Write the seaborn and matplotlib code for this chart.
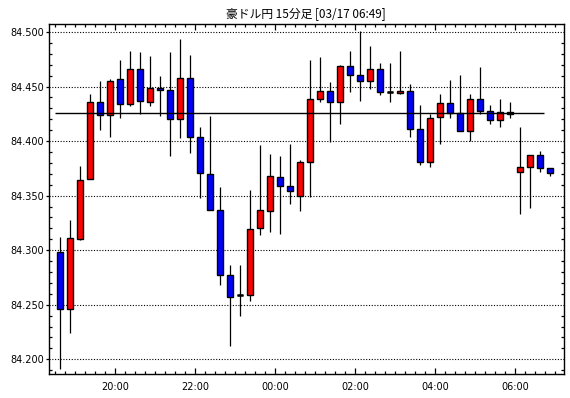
import numpy as np
import pandas as pd
import matplotlib
matplotlib.use("Agg")
import matplotlib.pyplot as plt
import matplotlib.dates as mdates
import seaborn as sns

# ---------------- data (15 min candles, AUD/JPY) ----------------
start_time = "2011-03-16 18:30"
n_bars = 50

opens = [84.298, 84.246, 84.310, 84.365, 84.436, 84.424, 84.457, 84.434, 84.466, 84.436,
         84.449, 84.447, 84.420, 84.458, 84.404, 84.370, 84.337, 84.277, 84.259, 84.259,
         84.320, 84.336, 84.367, 84.359, 84.350, 84.381, 84.439, 84.446, 84.436, 84.469,
         84.461, 84.455, 84.466, 84.445, 84.444, 84.446, 84.411, 84.381, 84.422, 84.435,
         84.426, 84.409, 84.439, 84.428, 84.419, 84.427, 84.372, 84.376, 84.387, 84.375]
highs = [84.312, 84.328, 84.377, 84.443, 84.455, 84.457, 84.474, 84.483, 84.482, 84.478,
         84.460, 84.482, 84.494, 84.479, 84.413, 84.423, 84.358, 84.286, 84.286, 84.355,
         84.396, 84.388, 84.386, 84.397, 84.383, 84.474, 84.477, 84.454, 84.470, 84.483,
         84.501, 84.487, 84.472, 84.472, 84.483, 84.452, 84.433, 84.425, 84.443, 84.456,
         84.461, 84.443, 84.468, 84.433, 84.439, 84.436, 84.413, 84.387, 84.391, 84.375]
lows = [84.191, 84.224, 84.309, 84.365, 84.410, 84.404, 84.421, 84.432, 84.425, 84.432,
        84.423, 84.386, 84.403, 84.389, 84.348, 84.337, 84.268, 84.212, 84.240, 84.253,
        84.314, 84.317, 84.315, 84.342, 84.336, 84.349, 84.436, 84.399, 84.416, 84.445,
        84.437, 84.448, 84.442, 84.436, 84.443, 84.404, 84.378, 84.376, 84.397, 84.421,
        84.409, 84.400, 84.425, 84.416, 84.413, 84.421, 84.333, 84.339, 84.372, 84.368]
closes = [84.246, 84.311, 84.364, 84.436, 84.424, 84.455, 84.434, 84.466, 84.437, 84.449,
          84.447, 84.420, 84.458, 84.404, 84.371, 84.337, 84.277, 84.257, 84.259, 84.319,
          84.337, 84.368, 84.359, 84.354, 84.381, 84.439, 84.446, 84.436, 84.469, 84.461,
          84.455, 84.466, 84.445, 84.445, 84.446, 84.411, 84.381, 84.421, 84.435, 84.426,
          84.409, 84.439, 84.428, 84.419, 84.427, 84.425, 84.376, 84.387, 84.375, 84.371]

ref_level = 84.4255                       # horizontal reference line
ref_from, ref_to = "2011-03-16 18:30", "2011-03-17 06:43"

title = "豪ドル円 15分足 [03/17 06:49]"
y_ticks = [84.200, 84.250, 84.300, 84.350, 84.400, 84.450, 84.500]

# ---------------- frame ----------------
df = pd.DataFrame({
    "time": pd.date_range(start_time, periods=n_bars, freq="15min"),
    "open": opens, "high": highs, "low": lows, "close": closes,
})
df["x"] = mdates.date2num(df["time"] + pd.Timedelta(minutes=7.5))
df["up"] = df["close"] >= df["open"]

sns.set_style("ticks")
plt.rcParams["font.family"] = ["DejaVu Sans"]
plt.rcParams["text.color"] = "black"
plt.rcParams["xtick.color"] = "black"
plt.rcParams["ytick.color"] = "black"
plt.rcParams["xtick.labelcolor"] = "black"
plt.rcParams["ytick.labelcolor"] = "black"

fig = plt.figure(figsize=(5.7, 3.98), dpi=100)
ax = fig.add_axes([0.086, 0.0603, 0.903, 0.8794])

# grid lines at every 0.05
for v in y_ticks:
    ax.axhline(v, color="black", lw=0.8, ls=(0, (1, 1.5)), zorder=0)

# wicks
ax.vlines(df["x"], df["low"], df["high"], color="black", lw=0.9, zorder=1)

# bodies
bar_w = 8 / 1440
colors = np.where(df["up"], "#ff0000", "#0000ff")
body_lo = np.minimum(df["open"], df["close"])
body_h = np.abs(df["close"] - df["open"])
ax.bar(df["x"], body_h, bottom=body_lo, width=bar_w, color=colors,
       edgecolor="black", linewidth=1.0, zorder=2)

# doji (open == close): flat black dash
doji = df[body_h < 0.0005]
ax.hlines(doji["close"], doji["x"] - bar_w / 2, doji["x"] + bar_w / 2,
          color="black", lw=1.8, zorder=3)

# reference line
ax.hlines(ref_level, mdates.date2num(pd.Timestamp(ref_from)),
          mdates.date2num(pd.Timestamp(ref_to)), color="black", lw=1.0, zorder=3)

# axes limits
ax.set_xlim(mdates.date2num(pd.Timestamp("2011-03-16 18:21")),
            mdates.date2num(pd.Timestamp("2011-03-17 07:13")))
ax.set_ylim(84.1865, 84.5073)

ax.xaxis.set_major_locator(mdates.HourLocator(byhour=range(0, 24, 2)))
ax.xaxis.set_minor_locator(mdates.MinuteLocator(byminute=[0, 15, 30, 45]))
ax.xaxis.set_major_formatter(mdates.DateFormatter("%H:%M"))
ax.set_yticks(y_ticks)
ax.set_yticklabels([f"{v:.3f}" for v in y_ticks])
ax.set_yticks(np.arange(84.19, 84.505, 0.01), minor=True)

ax.tick_params(axis="x", which="major", direction="in", length=4.5, width=0.9,
               top=True, labelsize=7, pad=6)
ax.tick_params(axis="x", which="minor", direction="in", length=2.5, width=0.9, top=True)
ax.tick_params(axis="y", which="major", direction="out", length=2.5, width=0.9,
               labelsize=7, pad=1)
ax.tick_params(axis="y", which="minor", direction="in", length=2.5, width=0.9, right=True)

for s in ax.spines.values():
    s.set_linewidth(1.0)
    s.set_color("black")

ax.set_title(title, fontsize=8.5, pad=4, color="black",
             family=["Noto Sans CJK JP", "DejaVu Sans"])
ax.set_xlabel("")
ax.set_ylabel("")

fig.savefig("out.png", dpi=100)
